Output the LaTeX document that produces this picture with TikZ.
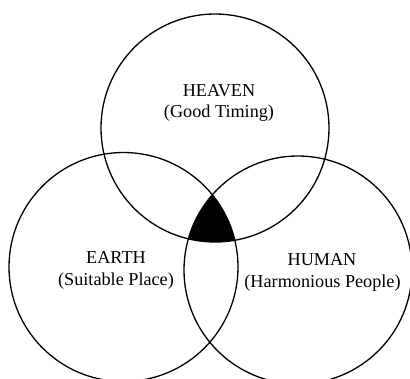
\documentclass[tikz,border=0pt]{standalone}
\usepackage{fontspec}
\setmainfont{Liberation Serif}
\begin{document}
\begin{tikzpicture}[x=1pt,y=-1pt,
  lbl/.style={font=\fontsize{18.2}{21}\selectfont, inner sep=0pt, anchor=base},
  ring/.style={draw=black, line width=1.3pt}]
\useasboundingbox (0,0) rectangle (410,378);
\coordinate (cT) at (215,128);
\coordinate (cL) at (123.5,267);
\coordinate (cR) at (298,270);
\begin{scope}
  \clip (cT) circle (114);
  \clip (cL) circle (114.5);
  \fill[black] (cR) circle (114);
\end{scope}
\draw[ring] (cT) circle (114);
\draw[ring] (cL) circle (114.5);
\draw[ring] (cR) circle (114);
\node[lbl] (heaven) at (219,96) {HEAVEN};
\node[lbl] (heavensub) at (219,117) {(Good Timing)};
\node[lbl] (earth) at (116,263.5) {EARTH};
\node[lbl] (earthsub) at (116,285.5) {(Suitable Place)};
\node[lbl] (human) at (322,265.5) {HUMAN};
\node[lbl] (humansub) at (322.5,287) {(Harmonious People)};
\end{tikzpicture}
\end{document}
